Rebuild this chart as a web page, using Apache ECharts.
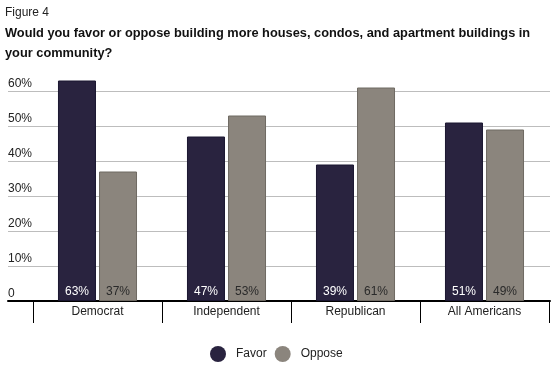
<!DOCTYPE html>
<html><head><meta charset="utf-8">
<script src="https://cdn.jsdelivr.net/npm/echarts@6/dist/echarts.min.js"></script>
<style>html,body{margin:0;padding:0;background:#fff}#c{width:560px;height:374px}</style>
</head><body><div id="c"></div>
<script>
const categories = ['Democrat', 'Independent', 'Republican', 'All Americans'];
const favor = [63, 47, 39, 51];
const oppose = [37, 53, 61, 49];
const yTicks = [0, 10, 20, 30, 40, 50, 60];

const chart = echarts.init(document.getElementById('c'), null, {renderer: 'canvas'});
const FONT = '"Liberation Sans", Arial, sans-serif';
chart.setOption({
  animation: false,
  backgroundColor: '#fff',
  textStyle: {fontFamily: FONT},
  title: [
    {text: 'Figure 4', left: 0, top: 2, textStyle: {fontSize: 12, fontWeight: 'normal', color: '#222', fontFamily: FONT}},
    {text: 'Would you favor or oppose building more houses, condos, and apartment buildings in\nyour community?', left: 0, top: 18,
     textStyle: {fontSize: 12.8, fontWeight: 'bold', color: '#111', lineHeight: 20, fontFamily: FONT}}
  ],
  legend: {
    data: ['Favor', 'Oppose'], left: 210, top: 346, padding: 0, icon: 'circle', itemWidth: 16, itemHeight: 16, itemGap: 8,
    itemStyle: {borderWidth: 0},
    textStyle: {fontSize: 12, color: '#222', fontFamily: FONT, padding: [0, 0, 0, 5]}
  },
  grid: [
    {left: 33, right: 11, top: 56, bottom: 73},
    {left: 8, right: 10, top: 56, bottom: 73}
  ],
  xAxis: [
    {type: 'category', data: categories, gridIndex: 0,
     axisLine: {show: false},
     axisTick: {show: true, length: 22, interval: 0, lineStyle: {color: '#000', width: 1}},
     axisLabel: {margin: 5, fontSize: 12, color: '#222', fontFamily: FONT, interval: 0}},
    {type: 'value', gridIndex: 1, min: 0, max: 1,
     axisLine: {show: true, lineStyle: {color: '#000', width: 2}},
     axisTick: {show: false}, axisLabel: {show: false}, splitLine: {show: false}}
  ],
  yAxis: [
    {type: 'value', gridIndex: 0, min: 0, max: 70, interval: 10, show: false, splitLine: {show: false}},
    {type: 'value', gridIndex: 1, min: 0, max: 70, interval: 10,
     axisLine: {show: false}, axisTick: {show: false},
     axisLabel: {inside: true, margin: 0, verticalAlign: 'bottom', padding: [0, 0, 1, 0], fontSize: 12, color: '#222', fontFamily: FONT,
       showMaxLabel: false,
       formatter: v => yTicks.indexOf(v) < 0 ? '' : (v === 0 ? '0' : v + '%')},
     splitLine: {show: true, showMaxLine: false, lineStyle: {color: '#bdbdbd', width: 1}}}
  ],
  series: [
    {name: 'Favor', type: 'bar', xAxisIndex: 0, yAxisIndex: 0, data: favor, barWidth: 38, barGap: '8%',
     itemStyle: {color: '#29233f', borderColor: '#1a1630', borderWidth: 1},
     label: {show: true, position: 'insideBottom', distance: 3, color: '#fff', fontSize: 12, fontFamily: FONT, formatter: '{c}%'}},
    {name: 'Oppose', type: 'bar', xAxisIndex: 0, yAxisIndex: 0, data: oppose, barWidth: 38,
     itemStyle: {color: '#8b857d', borderColor: '#6f6a63', borderWidth: 1},
     label: {show: true, position: 'insideBottom', distance: 3, color: '#2a2a2a', fontSize: 12, fontFamily: FONT, formatter: '{c}%'}}
  ]
});
</script></body></html>
